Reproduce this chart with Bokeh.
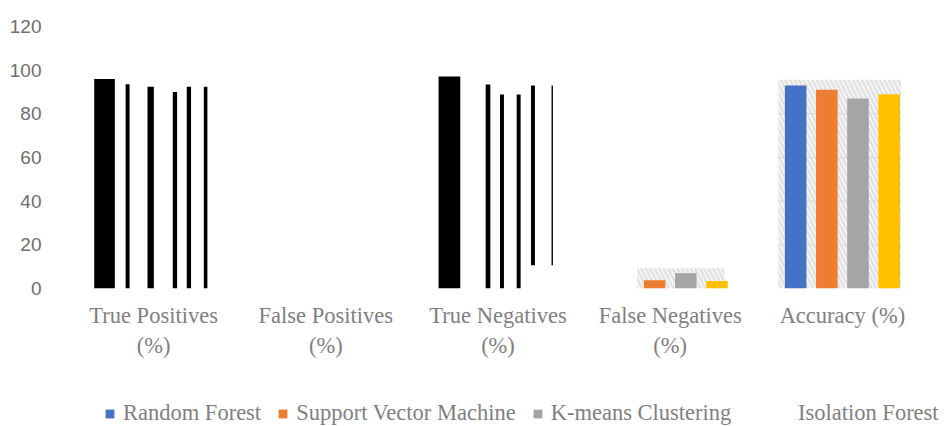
import numpy as np
from bokeh.plotting import figure
from bokeh.layouts import column
from bokeh.models import (Range1d, FixedTicker, Legend, LegendItem)
from bokeh.embed import file_html
from bokeh.resources import INLINE

# ---------------- data ----------------
categories = ["True Positives (%)", "False Positives (%)", "True Negatives (%)",
              "False Negatives (%)", "Accuracy (%)"]
tick_labels = ["True Positives\n(%)", "False Positives\n(%)", "True Negatives\n(%)",
               "False Negatives\n(%)", "Accuracy (%)"]
series_names = ["Random Forest", "Support Vector Machine", "K-means Clustering", "Isolation Forest"]
series_colors = ["#4472C4", "#ED7D31", "#A5A5A5", "#FFC000"]

nan = np.nan
random_forest = [nan, nan, nan, 0.0, 93.0]
support_vector_machine = [nan, nan, nan, 3.8, 91.0]
kmeans_clustering = [nan, nan, nan, 7.0, 87.0]
isolation_forest = [nan, nan, nan, 3.4, 89.0]
series_values = [random_forest, support_vector_machine, kmeans_clustering, isolation_forest]

# black rendering-artifact bars (category index, offset in category units, width, bottom, top)
black_cat = [0, 0, 0, 0, 0, 0, 2, 2, 2, 2, 2, 2]
black_off = [-0.285, -0.151, -0.017, 0.124, 0.205, 0.302,
             -0.282, -0.058, 0.023, 0.120, 0.203, 0.315]
black_w = [0.120, 0.023, 0.037, 0.025, 0.025, 0.021,
           0.126, 0.027, 0.023, 0.023, 0.023, 0.008]
black_bottom = [0, 0, 0, 0, 0, 0, 0, 0, 0, 0, 10.7, 10.7]
black_top = [96.0, 93.6, 92.4, 90.0, 92.4, 92.4,
             97.1, 93.4, 88.8, 88.8, 93.0, 93.0]

# hatched highlight areas behind groups
hatch_cat = [3, 4]
hatch_left = [-0.192, -0.372]
hatch_right = [0.315, 0.341]
hatch_top = [9.3, 95.6]

y_ticks = [0, 20, 40, 60, 80, 100, 120]

# ---------------- main figure ----------------
p = figure(width=947, height=390, output_backend="svg", toolbar_location=None,
           x_range=Range1d(0, len(categories)), y_range=Range1d(0, 120),
           min_border_left=67, min_border_right=19, min_border_top=26, min_border_bottom=102)
p.outline_line_color = None
p.xgrid.visible = False
p.ygrid.visible = False
p.background_fill_color = "white"
p.frame_align = False

centers = np.arange(len(categories)) + 0.5

# hatched areas
hl = [centers[c] + o for c, o in zip(hatch_cat, hatch_left)]
hr = [centers[c] + o for c, o in zip(hatch_cat, hatch_right)]
p.quad(left=hl, right=hr, bottom=0, top=hatch_top, fill_color="white",
       line_color=None, hatch_pattern="\\", hatch_color="#e3e3e3",
       hatch_weight=3, hatch_scale=9)
# faint gridlines visible only inside hatched areas
gx0, gx1, gy = [], [], []
for l, r, t in zip(hl, hr, hatch_top):
    for yv in y_ticks[1:]:
        if yv < t:
            gx0.append(l); gx1.append(r); gy.append(yv)
if gy:
    p.segment(x0=gx0, y0=gy, x1=gx1, y1=gy, line_color="#d9d9d9", line_width=1)

# colored bars
bar_step = 0.181
bar_width = 0.125
for i, (vals, col) in enumerate(zip(series_values, series_colors)):
    xs = centers + (i - 1.5) * bar_step
    p.vbar(x=xs, top=vals, bottom=0, width=bar_width, fill_color=col, line_color=None)

# black artifact bars
bx = [centers[c] + o for c, o in zip(black_cat, black_off)]
p.vbar(x=bx, width=black_w, bottom=black_bottom, top=black_top,
       fill_color="black", line_color=None)

# axes
p.yaxis.ticker = FixedTicker(ticks=y_ticks)
p.yaxis.axis_line_color = None
p.yaxis.major_tick_line_color = None
p.yaxis.minor_tick_line_color = None
p.yaxis.major_label_standoff = 20
p.yaxis.major_label_text_font = "Liberation Sans"
p.yaxis.major_label_text_font_size = "19px"
p.yaxis.major_label_text_color = "#6e6e6e"

p.xaxis.ticker = FixedTicker(ticks=list(centers))
p.xaxis.major_label_overrides = {float(c): lab for c, lab in zip(centers, tick_labels)}
p.xaxis.axis_line_color = None
p.xaxis.major_tick_line_color = None
p.xaxis.minor_tick_line_color = None
p.xaxis.major_label_standoff = 8
p.xaxis.major_label_text_font = "Liberation Serif"
p.xaxis.major_label_text_font_size = "22.5px"
p.xaxis.major_label_text_color = "#7F7F7F"

# ---------------- legend strip ----------------
lf = figure(width=947, height=36, output_backend="svg", toolbar_location=None,
            x_range=Range1d(0, 1), y_range=Range1d(0, 1),
            min_border_left=0, min_border_right=0, min_border_top=0, min_border_bottom=0)
lf.outline_line_color = None
lf.axis.visible = False
lf.grid.visible = False
lf.frame_align = False
leg_renderers = [lf.quad(left=[nan], right=[nan], top=[nan], bottom=[nan],
                         fill_color=c, line_color=None)
                 for c in series_colors[:3]]
dummy = lf.quad(left=[nan], right=[nan], top=[nan], bottom=[nan], fill_alpha=0, line_alpha=0)

leg1 = Legend(items=[LegendItem(label=n, renderers=[r]) for n, r in zip(series_names[:3], leg_renderers)],
              orientation="horizontal", location=(104, 0), glyph_width=11, glyph_height=11,
              label_standoff=8, spacing=16, padding=0, margin=0,
              border_line_color=None, background_fill_alpha=0,
              label_text_font="Liberation Serif", label_text_font_size="22.5px",
              label_text_color="#7F7F7F")
leg2 = Legend(items=[LegendItem(label=series_names[3], renderers=[dummy])],
              orientation="horizontal", location=(798, 0), glyph_width=0, glyph_height=9,
              label_standoff=0, spacing=0, padding=0, margin=0,
              border_line_color=None, background_fill_alpha=0,
              label_text_font="Liberation Serif", label_text_font_size="22.5px",
              label_text_color="#7F7F7F")
lf.add_layout(leg1, "center")
lf.add_layout(leg2, "center")

layout = column(p, lf, spacing=0)
open("out.html", "w").write(file_html(layout, INLINE))
